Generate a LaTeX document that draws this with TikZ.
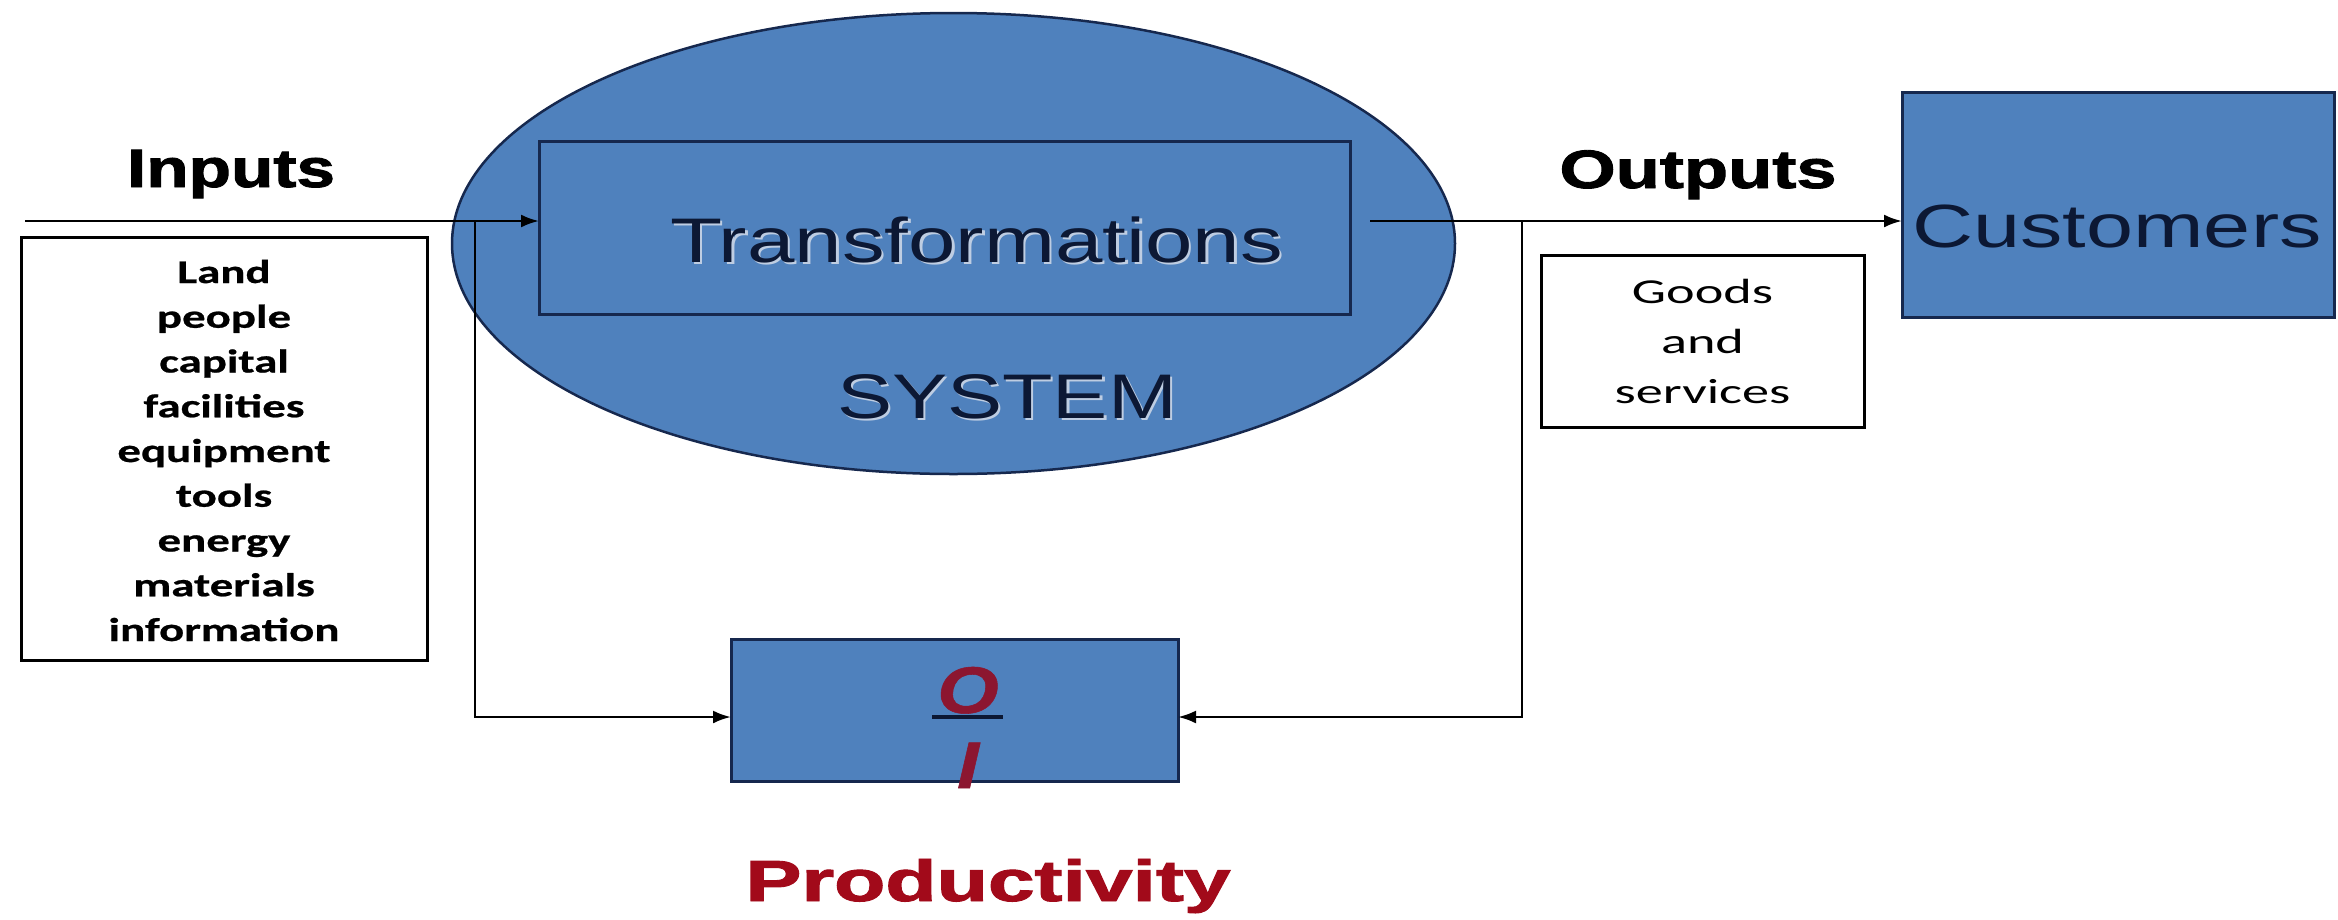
\documentclass[tikz,border=0pt]{standalone}
\usepackage{fontspec}
\usepackage{graphicx}
\usetikzlibrary{arrows.meta,shapes.geometric,calc}
\setmainfont{Liberation Sans}
\newfontfamily\heavyfont[FakeBold=1.6]{Liberation Sans Bold}
\newfontfamily\listfont[FakeStretch=1.42, FakeBold=0.7]{Carlito Bold}
\newfontfamily\goodsfont[FakeStretch=1.55]{Carlito}
\newfontfamily\ratiofont[FakeStretch=1.2, FakeBold=0.8]{Liberation Sans Bold Italic}

\definecolor{sysblue}{RGB}{79,129,189}
\definecolor{navyline}{RGB}{22,40,78}
\definecolor{deepnavy}{RGB}{12,24,52}
\definecolor{glow}{RGB}{190,205,226}
\definecolor{prodred}{RGB}{162,10,26}
\definecolor{ratiored}{RGB}{140,22,48}

% stretch a label horizontally to a given width, keeping its height
\newcommand{\widento}[2]{\resizebox{#1}{\height}{#2}}

\tikzset{
  link/.style={line width=2.6pt, black, -{Latex[length=18pt,width=13pt]}},
  bluebox/.style={draw=navyline, fill=sysblue, line width=3pt, inner sep=0pt, outer sep=0pt},
  whitebox/.style={draw=black, fill=white, line width=3pt, inner sep=0pt, outer sep=0pt},
  biglabel/.style={anchor=base, inner sep=0pt, text=deepnavy, font=\fontsize{63}{70}\selectfont},
  glowlabel/.style={biglabel, text=glow, xshift=2.5pt, yshift=-2.5pt},
  headlabel/.style={anchor=base, inner sep=0pt, text=black, font=\heavyfont\fontsize{54}{60}\selectfont},
  listtext/.style={anchor=base, inner sep=0pt, font=\listfont\fontsize{33}{40}\selectfont},
  goodstext/.style={anchor=base, inner sep=0pt, font=\goodsfont\fontsize{35}{40}\selectfont},
  ratiotext/.style={anchor=base, inner sep=0pt, text=ratiored, font=\ratiofont\fontsize{66}{72}\selectfont}
}

\begin{document}
\begin{tikzpicture}[x=1pt,y=-1pt]
\useasboundingbox (0,0) rectangle (2338,919);

% the system ellipse
\node[ellipse, draw=navyline, fill=sysblue, line width=2.5pt, inner sep=0pt,
      minimum width=1003pt, minimum height=461pt] (sys) at (953.5,243.5) {};

% inputs
\node[headlabel] (inLbl) at (231,187) {\widento{208pt}{Inputs}};
\node[whitebox, minimum width=406pt, minimum height=423pt] (inBox) at (224,448.5) {};
\foreach \w [count=\i from 0] in {Land,people,capital,facilities,equipment,tools,energy,materials,information}
  \node[listtext] (item\i) at (224,{283+44.75*\i}) {\w};

% transformation box
\node[bluebox, minimum width=811pt, minimum height=173pt] (trans) at (944.5,227.5) {};
\node[glowlabel] (transGlow) at (976.5,262) {\widento{613pt}{Transformations}};
\node[biglabel] (transLbl) at (976.5,262) {\widento{613pt}{Transformations}};
\node[glowlabel] (sysGlow) at (1007,418) {\widento{340pt}{SYSTEM}};
\node[biglabel] (sysLbl) at (1007,418) {\widento{340pt}{SYSTEM}};

% outputs
\node[headlabel] (outLbl) at (1698,188) {\widento{277pt}{Outputs}};
\node[whitebox, minimum width=323pt, minimum height=172pt] (goodsBox) at (1702.5,341) {};
\node[goodstext] (goods1) at (1702.5,303) {Goods};
\node[goodstext] (goods2) at (1702.5,353) {and};
\node[goodstext] (goods3) at (1702.5,403) {services};

% customers
\node[bluebox, minimum width=432pt, minimum height=225pt] (cust) at (2118,204.5) {};
\node[biglabel, font=\fontsize{61}{68}\selectfont] (custLbl) at (2117,247) {\widento{409pt}{Customers}};

% productivity ratio
\node[bluebox, minimum width=447pt, minimum height=142pt] (ratio) at (954.5,710) {};
\node[ratiotext] (ratioO) at (968,713) {O};
\draw[line width=3.5pt, deepnavy] ($(ratioO.base)+(-36,4)$) -- ($(ratioO.base)+(35,4)$);
\node[ratiotext] (ratioI) at (968,788) {I};
\node[headlabel, text=prodred, font=\heavyfont\fontsize{58}{64}\selectfont] (prodLbl) at (988,901) {\widento{485pt}{Productivity}};

% flows
\coordinate (inStart) at (25,221);
\coordinate (leftTap) at (475,221);
\coordinate (outStart) at (1370,221);
\coordinate (rightTap) at (1522,221);
\draw[link] (inStart) -- (inStart -| trans.west);
\draw[link] (leftTap) |- ([yshift=-7pt]ratio.west);
\draw[link] (outStart) -- (outStart -| cust.west);
\draw[link] (rightTap) |- ([yshift=-7pt]ratio.east);
\end{tikzpicture}
\end{document}
